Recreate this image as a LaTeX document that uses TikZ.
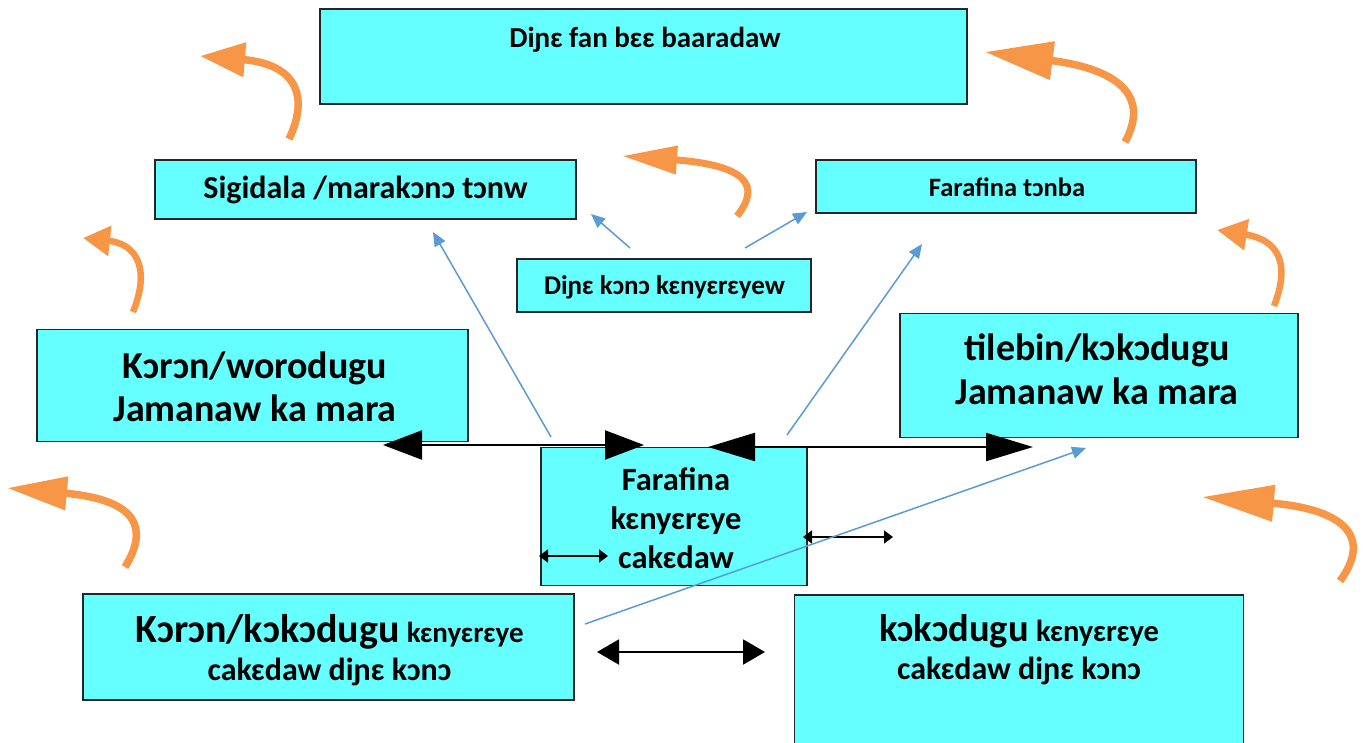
\documentclass[tikz,border=0pt]{standalone}
\usepackage{fontspec}
\setmainfont{Carlito}
\usetikzlibrary{arrows.meta}
\definecolor{boxcyan}{HTML}{66FFFF}
\definecolor{orng}{HTML}{F79646}
\definecolor{bluel}{HTML}{5B9BD5}
\newcommand{\fs}[2]{\fontsize{#1}{#2}\selectfont}
\begin{document}
\begin{tikzpicture}[x=1pt,y=-1pt,
  box/.style={draw=black!85, line width=1.6pt, fill=boxcyan, inner sep=0pt},
  txt/.style={font=\bfseries, align=center, inner sep=0pt},
  bluearrow/.style={draw=bluel, line width=1.5pt, -{Triangle[length=14pt,width=12pt]}},
  bigdbl/.style={draw=black, line width=2.2pt, {Triangle[length=39pt,width=29pt]}-{Triangle[length=39pt,width=29pt]}},
  bigdblb/.style={draw=black, line width=2.2pt, {Triangle[length=47pt,width=28pt]}-{Triangle[length=47pt,width=28pt]}},
  meddbl/.style={draw=black, line width=2pt, {Triangle[length=22pt,width=25pt]}-{Triangle[length=22pt,width=25pt]}},
  smalldbl/.style={draw=black, line width=1.6pt, {Triangle[length=9pt,width=13pt]}-{Triangle[length=9pt,width=13pt]}},
  orangearrow/.style={draw=orng, line width=7.5pt, -{Triangle[#1]}},
]
\useasboundingbox (0,0) rectangle (1368,742);
\fill[white] (0,0) rectangle (1368,742);

% boxes
\node[box, minimum width=647pt, minimum height=95pt] (b1) at (643.5,56.5) {};
\node[txt, font=\bfseries\fs{29}{34}] (t1) at (645,40) {Diɲɛ fan bɛɛ baaradaw};

\node[box, minimum width=421pt, minimum height=59pt] (b2) at (365.5,189.5) {};
\node[txt, font=\bfseries\fs{32}{38}] (t2) at (365.5,190) {Sigidala /marakɔnɔ tɔnw};

\node[box, minimum width=380pt, minimum height=53pt] (b3) at (1006,186.5) {};
\node[txt, font=\bfseries\fs{26.5}{32}] (t3) at (1007,187) {Farafina tɔnba};

\node[box, minimum width=294pt, minimum height=53pt] (b4) at (664,285.5) {};
\node[txt, font=\bfseries\fs{27}{32}] (t4) at (664.5,287) {Diɲɛ kɔnɔ kɛnyɛrɛyew};

\node[box, minimum width=431pt, minimum height=112pt] (b5) at (252.5,385.5) {};
\node[txt, font=\bfseries\fs{38}{43}] (t5) at (255,387) {Kɔrɔn/worodugu\\Jamanaw ka mara};

\node[box, minimum width=398pt, minimum height=124pt] (b6) at (1099,375.5) {};
\node[txt, font=\bfseries\fs{38}{44}] (t6) at (1097,369) {tilebin/kɔkɔdugu\\Jamanaw ka mara};

\node[box, minimum width=266pt, minimum height=138pt] (b7) at (674,516.5) {};
\node[txt, font=\bfseries\fs{32.5}{39}] (t7) at (676,518) {Farafina\\kɛnyɛrɛye\\cakɛdaw};

\node[box, minimum width=491pt, minimum height=106pt] (b8) at (328.5,647) {};
\node[txt, font=\bfseries\fs{32}{38}] (t8) at (329.5,650) {{\fs{40}{38}Kɔrɔn/kɔkɔdugu} {\fs{29}{38}kɛnyɛrɛye}\\cakɛdaw diɲɛ kɔnɔ};

\node[box, minimum width=449pt, minimum height=170pt] (b9) at (1019,680) {};
\node[txt, font=\bfseries\fs{32}{38}] (t9) at (1019,650) {{\fs{38.5}{38}kɔkɔdugu} {\fs{30.5}{38}kɛnyɛrɛye}\\cakɛdaw diɲɛ kɔnɔ};

% black double arrows
\coordinate (a1l) at (383,445); \coordinate (a1r) at (644,445);
\draw[bigdbl] (a1l) -- (a1r);
\coordinate (a2l) at (708,447); \coordinate (a2r) at (1033,447);
\draw[bigdblb] (a2l) -- (a2r);
\coordinate (a3l) at (539,556); \coordinate (a3r) at (608,556);
\draw[smalldbl] (a3l) -- (a3r);
\coordinate (a4l) at (803,537); \coordinate (a4r) at (893,537);
\draw[smalldbl] (a4l) -- (a4r);
\coordinate (a5l) at (597,652); \coordinate (a5r) at (765,652);
\draw[meddbl] (a5l) -- (a5r);

% blue arrows
\coordinate (u1s) at (551,437); \coordinate (u1e) at (433,232);
\draw[bluearrow] (u1s) -- (u1e);
\coordinate (u2s) at (787,435); \coordinate (u2e) at (922,244);
\draw[bluearrow] (u2s) -- (u2e);
\coordinate (u3s) at (630,248); \coordinate (u3e) at (591,214);
\draw[bluearrow] (u3s) -- (u3e);
\coordinate (u4s) at (745,248); \coordinate (u4e) at (807,212);
\draw[bluearrow] (u4s) -- (u4e);
\coordinate (u5s) at (585,624); \coordinate (u5e) at (1086,448);
\draw[bluearrow] (u5s) -- (u5e);

% orange curved arrows
\draw[orangearrow={length=45pt,width=33pt}] (289,139) .. controls (310,95) and (295,64) .. (200,56);
\draw[orangearrow={length=27pt,width=29pt}, line width=6.5pt] (133,312) .. controls (150,270) and (138,244) .. (83,238);
\draw[orangearrow={length=60pt,width=32pt}] (125,567) .. controls (148,530) and (140,500) .. (7,488);
\draw[orangearrow={length=55pt,width=27pt}, line width=7pt] (737,216) .. controls (762,185) and (745,165) .. (622,156);
\draw[orangearrow={length=68pt,width=37pt}] (1125,142) .. controls (1148,100) and (1125,70) .. (985,52);
\draw[orangearrow={length=30pt,width=30pt}, line width=6.5pt] (1274,306) .. controls (1290,265) and (1280,240) .. (1217,230);
\draw[orangearrow={length=72pt,width=35pt}] (1340,581) .. controls (1370,540) and (1350,510) .. (1202,497);
\end{tikzpicture}
\end{document}
